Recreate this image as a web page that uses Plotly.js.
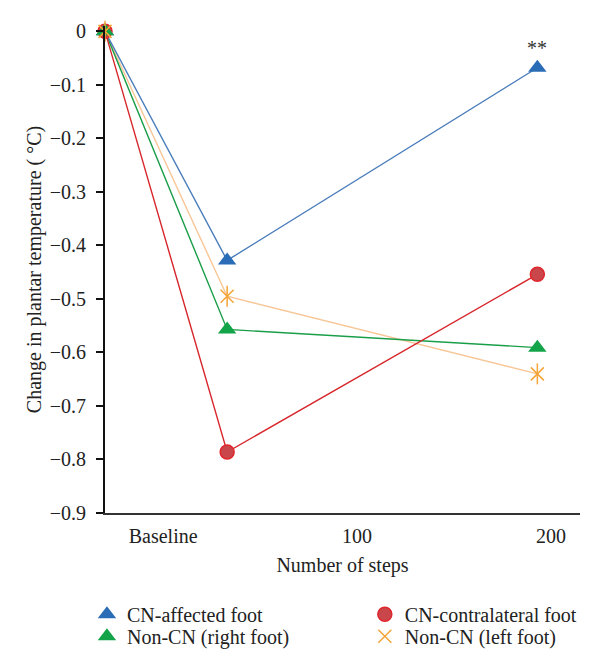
<!DOCTYPE html>
<html>
<head>
<meta charset="utf-8">
<script src="https://cdn.plot.ly/plotly-3.0.1.min.js"></script>
<style>html,body{margin:0;padding:0;background:#fff;}#chart{width:600px;height:668px;}</style>
</head>
<body>
<div id="chart"></div>
<script>
// Data
const steps = [-30, 33, 193];              // x positions of the three measurements
const tickPositions = [0, 100, 200];
const tickLabels = ['Baseline', '100', '200'];
const cnAffected = [0, -0.428, -0.068];
const cnContralateral = [0, -0.786, -0.454];
const nonCnRight = [0, -0.557, -0.591];
const nonCnLeft = [0, -0.495, -0.64];
const seriesNames = ['CN-affected foot', 'CN-contralateral foot', 'Non-CN (right foot)', 'Non-CN (left foot)'];

const FONT = 'Liberation Serif, Times New Roman, serif';
const FS = 20;

function lineTrace(y, color) {
  return {x: steps, y: y, mode: 'lines', line: {color: color, width: 1.4},
          showlegend: false, hoverinfo: 'skip', cliponaxis: false};
}
function markerTrace(y, name, marker, show, legend) {
  return {x: steps, y: y, mode: 'markers', name: name, marker: marker,
          showlegend: show, legend: legend, cliponaxis: false};
}

const traces = [
  lineTrace(nonCnLeft, '#f8c697'),
  lineTrace(nonCnRight, '#1a9e48'),
  lineTrace(cnContralateral, '#d7262b'),
  lineTrace(cnAffected, '#4a7dbb'),
  markerTrace(cnAffected, seriesNames[0], {symbol: 'triangle-up', size: 16, color: '#2a6cb6'}, true, 'legend'),
  markerTrace(cnContralateral, seriesNames[1], {symbol: 'circle', size: 14, color: '#c9474b', line: {color: '#e0262c', width: 1.5}}, true, 'legend2'),
  markerTrace(nonCnRight, seriesNames[2], {symbol: 'triangle-up', size: 16, color: '#13a449'}, true, 'legend3'),
  markerTrace(nonCnLeft, seriesNames[3], {symbol: 'x-thin-open', size: 13, color: '#f5a437', line: {color: '#f5a437', width: 1.5}}, true, 'legend4'),
  markerTrace(nonCnLeft, '', {symbol: 'line-ns-open', size: 15, color: '#f5a437', line: {color: '#f5a437', width: 1.5}}, false, 'legend4')
];

function legendAt(x, y) {
  return {
    orientation: 'v', xref: 'paper', yref: 'paper',
    x: x, y: y, xanchor: 'left', yanchor: 'top',
    font: {size: FS, family: FONT, color: '#222'},
    bgcolor: 'rgba(0,0,0,0)', borderwidth: 0
  };
}

const layout = {
  width: 600, height: 668,
  margin: {l: 105, r: 20, t: 26, b: 155, autoexpand: false},
  paper_bgcolor: '#fff', plot_bgcolor: '#fff',
  font: {family: FONT, size: FS, color: '#222'},
  xaxis: {
    range: [-30, 215], showgrid: false, zeroline: false,
    showline: true, linecolor: '#333', linewidth: 2,
    tickmode: 'array', tickvals: tickPositions, ticktext: tickLabels,
    ticks: '', ticklabelstandoff: 4, tickfont: {size: FS, family: FONT, color: '#222'},
    title: {text: 'Number of steps', font: {size: FS, family: FONT, color: '#222'}, standoff: 12}
  },
  yaxis: {
    range: [-0.9, 0.01], showgrid: false, zeroline: false,
    showline: true, linecolor: '#111', linewidth: 2,
    dtick: 0.1, tick0: 0, ticks: 'outside', ticklen: 7, tickwidth: 2, tickcolor: '#111',
    ticklabelstandoff: 6,
    tickfont: {size: FS, family: FONT, color: '#222'},
    title: {text: 'Change in plantar temperature ( °C)', font: {size: FS, family: FONT, color: '#222'}, standoff: 3}
  },
  legend: legendAt(-0.038, -0.168),
  legend2: legendAt(0.547, -0.168),
  legend3: legendAt(-0.038, -0.213),
  legend4: legendAt(0.547, -0.213),
  annotations: [{
    x: steps[2], y: cnAffected[2], xref: 'x', yref: 'y',
    text: '**', showarrow: false, yshift: 20,
    font: {size: FS, family: FONT, color: '#333'}
  }]
};

Plotly.newPlot('chart', traces, layout, {displayModeBar: false, staticPlot: true});
</script>
</body>
</html>
